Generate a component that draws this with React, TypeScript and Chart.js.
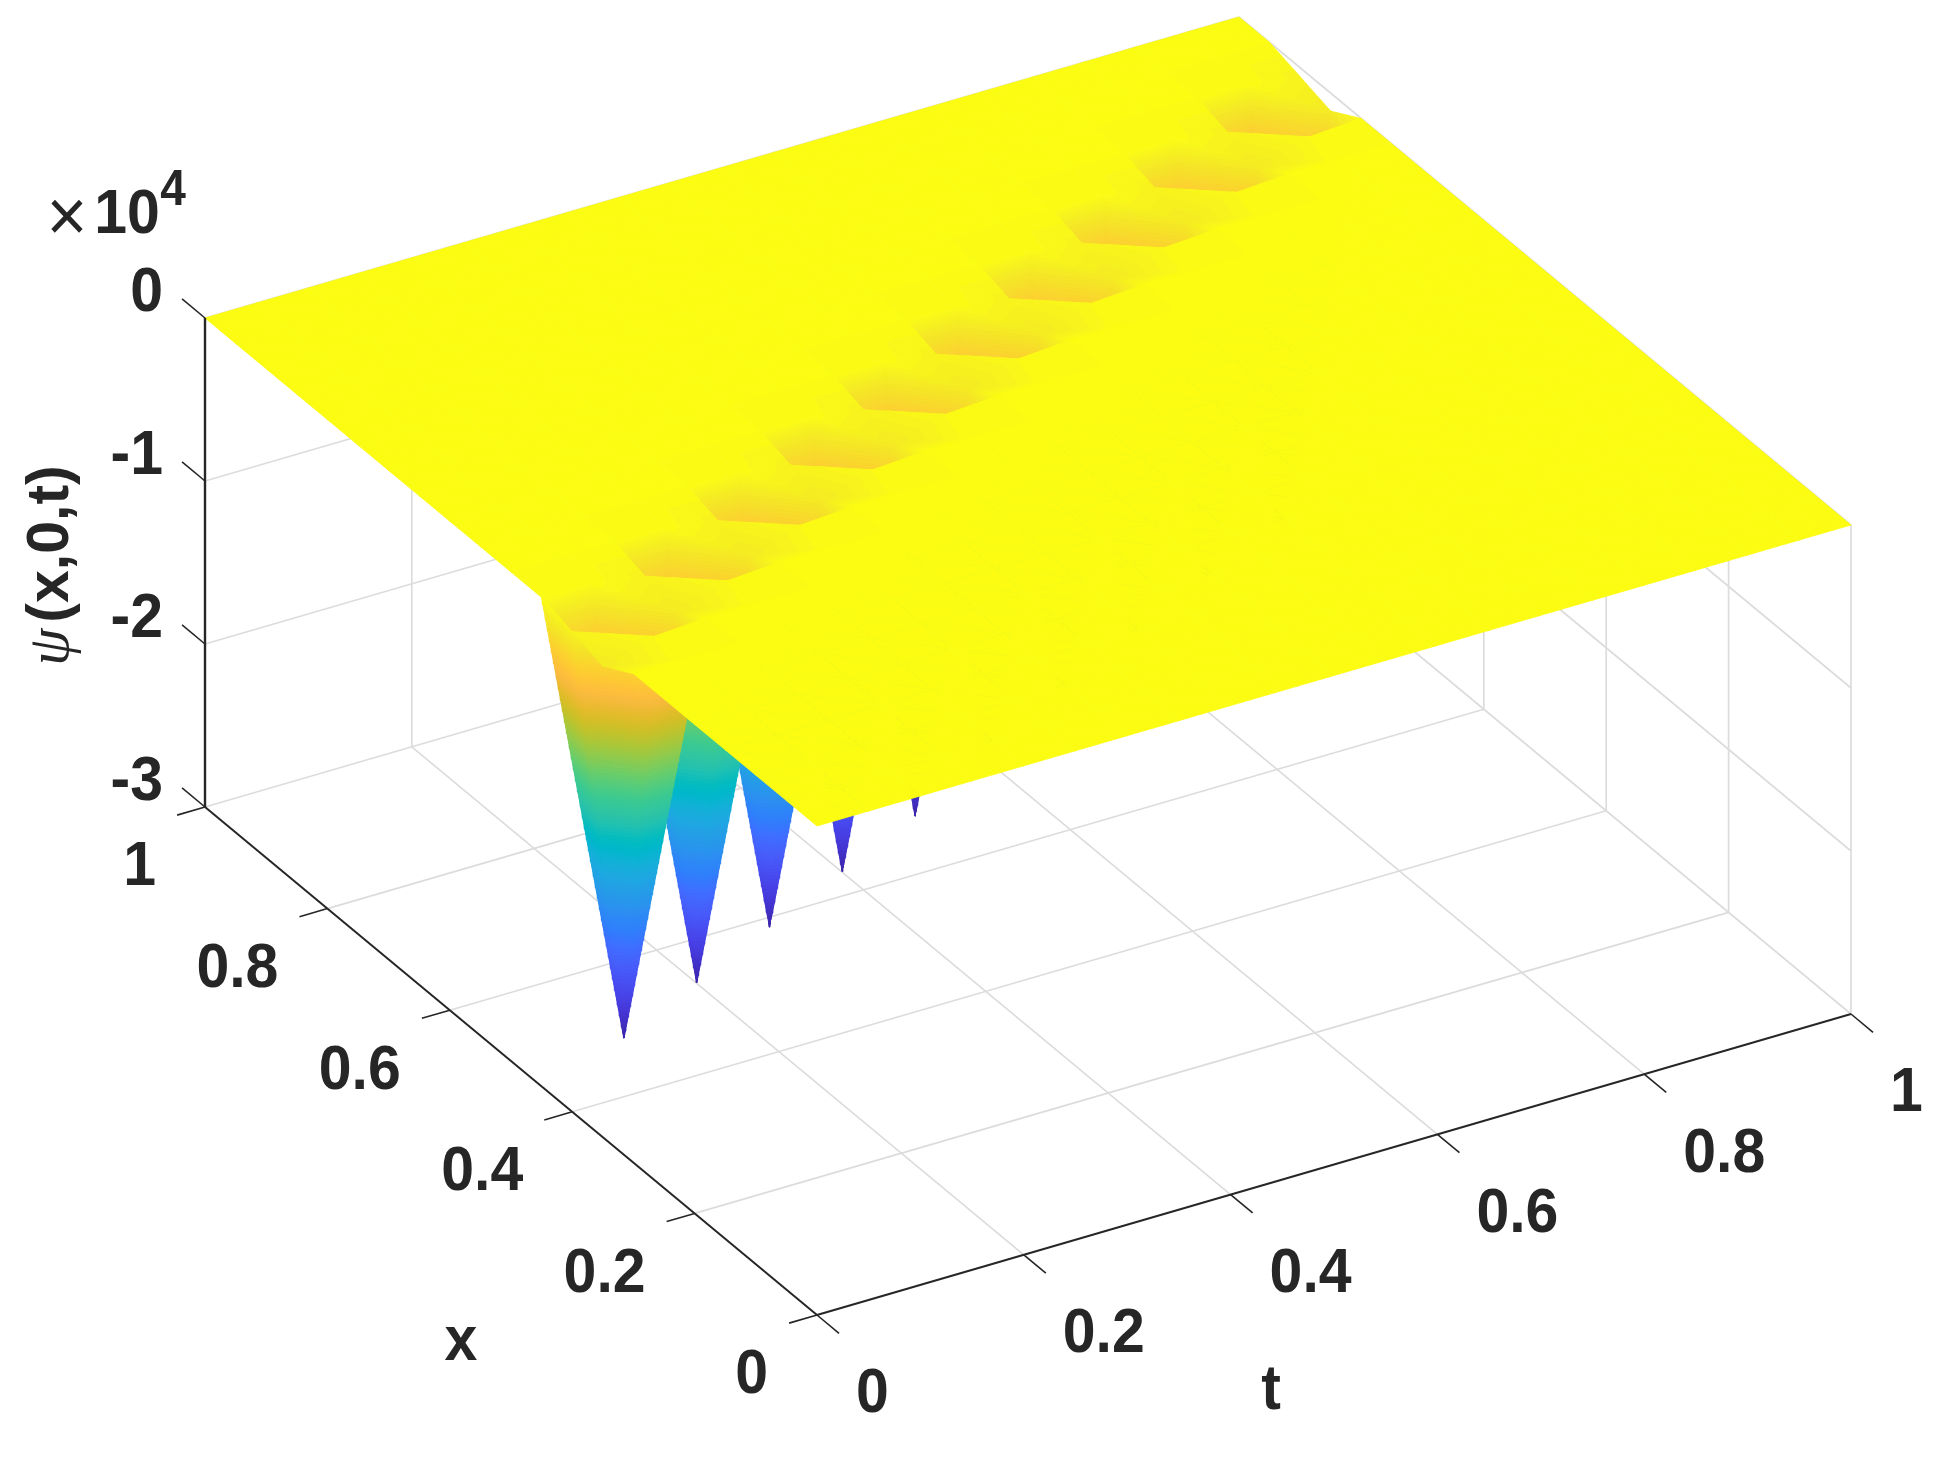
import React, { useEffect, useRef } from "react";
import { Chart, registerables } from "chart.js";

Chart.register(...registerables);

// ---------- data (x down the columns index, t down the rows index) ----------
const xGrid = [0, 0.05, 0.1, 0.15, 0.2, 0.25, 0.3, 0.35, 0.4, 0.45, 0.5, 0.55, 0.6, 0.65, 0.7, 0.75, 0.8, 0.85, 0.9, 0.95, 1];
const tGrid = [0, 0.05, 0.1, 0.15, 0.2, 0.25, 0.3, 0.35, 0.4, 0.45, 0.5, 0.55, 0.6, 0.65, 0.7, 0.75, 0.8, 0.85, 0.9, 0.95, 1];
// psi(x,0,t) in units of 1e4; one row per t value, one column per x value
const psiRows = [
  [0,0,0,0,0,0,0,-0.11,-0.055,0,0,0,0,0,0,0,0,0,0,0,0],
  [0,0,0,0,0,0,0,-0.02,-2.64,-0.01,0,0,0,0,0,0,0,0,0,0,0],
  [0,0,0,0,0,0,0,0,-0.11,-0.055,0,0,0,0,0,0,0,0,0,0,0],
  [0,0,0,0,0,0,0,0,-0.02,-2.64,-0.01,0,0,0,0,0,0,0,0,0,0],
  [0,0,0,0,0,0,0,0,0,-0.11,-0.055,0,0,0,0,0,0,0,0,0,0],
  [0,0,0,0,0,0,0,0,0,-0.02,-2.64,-0.01,0,0,0,0,0,0,0,0,0],
  [0,0,0,0,0,0,0,0,0,0,-0.11,-0.055,0,0,0,0,0,0,0,0,0],
  [0,0,0,0,0,0,0,0,0,0,-0.02,-2.64,-0.01,0,0,0,0,0,0,0,0],
  [0,0,0,0,0,0,0,0,0,0,0,-0.11,-0.055,0,0,0,0,0,0,0,0],
  [0,0,0,0,0,0,0,0,0,0,0,-0.02,-2.64,-0.01,0,0,0,0,0,0,0],
  [0,0,0,0,0,0,0,0,0,0,0,0,-0.11,-0.055,0,0,0,0,0,0,0],
  [0,0,0,0,0,0,0,0,0,0,0,0,-0.02,-2.64,-0.01,0,0,0,0,0,0],
  [0,0,0,0,0,0,0,0,0,0,0,0,0,-0.11,-0.055,0,0,0,0,0,0],
  [0,0,0,0,0,0,0,0,0,0,0,0,0,-0.02,-2.64,-0.01,0,0,0,0,0],
  [0,0,0,0,0,0,0,0,0,0,0,0,0,0,-0.11,-0.055,0,0,0,0,0],
  [0,0,0,0,0,0,0,0,0,0,0,0,0,0,-0.02,-2.64,-0.01,0,0,0,0],
  [0,0,0,0,0,0,0,0,0,0,0,0,0,0,0,-0.11,-0.055,0,0,0,0],
  [0,0,0,0,0,0,0,0,0,0,0,0,0,0,0,-0.02,-2.64,-0.01,0,0,0],
  [0,0,0,0,0,0,0,0,0,0,0,0,0,0,0,0,-0.11,-0.055,0,0,0],
  [0,0,0,0,0,0,0,0,0,0,0,0,0,0,0,0,-0.02,-2.64,-0.01,0,0],
  [0,0,0,0,0,0,0,0,0,0,0,0,0,0,0,0,0,-0.11,-0.055,0,0],
];
const xTicks = [0, 0.2, 0.4, 0.6, 0.8, 1];
const xTickLabels = ["0", "0.2", "0.4", "0.6", "0.8", "1"];
const tTicks = [0, 0.2, 0.4, 0.6, 0.8, 1];
const tTickLabels = ["0", "0.2", "0.4", "0.6", "0.8", "1"];
const zTicks = [0, -1, -2, -3];
const zTickLabels = ["0", "-1", "-2", "-3"];

// colour map (parula, 64 steps)
const parula = [
  [0.2422,0.1504,0.6603],[0.2504,0.165,0.7076],[0.2578,0.1818,0.7511],[0.2647,0.1978,0.7952],
  [0.2706,0.2147,0.8364],[0.2751,0.2342,0.871],[0.2783,0.2559,0.8991],[0.2803,0.2782,0.9221],
  [0.2813,0.3006,0.9414],[0.281,0.3228,0.9579],[0.2795,0.3447,0.9717],[0.276,0.3667,0.9829],
  [0.2699,0.3892,0.9906],[0.2602,0.4123,0.9952],[0.244,0.4358,0.9988],[0.2206,0.4603,0.9973],
  [0.1963,0.4847,0.9892],[0.1834,0.5074,0.9798],[0.1786,0.5289,0.9682],[0.1764,0.5499,0.952],
  [0.1687,0.5703,0.9359],[0.154,0.5902,0.9218],[0.146,0.6091,0.9079],[0.138,0.6276,0.8973],
  [0.1248,0.6459,0.8883],[0.1113,0.6635,0.8763],[0.0952,0.6798,0.8598],[0.0689,0.6948,0.8394],
  [0.0297,0.7082,0.8163],[0.0036,0.7203,0.7917],[0.0067,0.7312,0.766],[0.0433,0.7411,0.7394],
  [0.0964,0.75,0.712],[0.1408,0.7584,0.6842],[0.1717,0.767,0.6554],[0.1938,0.7758,0.6251],
  [0.2161,0.7843,0.5923],[0.247,0.7918,0.5567],[0.2906,0.7973,0.5188],[0.3406,0.8008,0.4789],
  [0.3909,0.8029,0.4354],[0.4456,0.8024,0.3909],[0.5044,0.7993,0.348],[0.5616,0.7942,0.3045],
  [0.6174,0.7876,0.2612],[0.672,0.7793,0.2227],[0.7242,0.7698,0.191],[0.7738,0.7598,0.1646],
  [0.8203,0.7498,0.1535],[0.8634,0.7406,0.1596],[0.9035,0.733,0.1774],[0.9393,0.7288,0.21],
  [0.9728,0.7298,0.2394],[0.9956,0.7434,0.2371],[0.997,0.7659,0.2199],[0.9952,0.7893,0.2028],
  [0.9892,0.8136,0.1885],[0.9786,0.8386,0.1766],[0.9676,0.8639,0.1643],[0.961,0.889,0.1537],
  [0.9597,0.9135,0.1423],[0.9628,0.9373,0.1265],[0.975,0.9606,0.1064],[0.985,0.99,0.07],
];

// ---------- view of the 3-D box (orthographic) ----------
const VIEW = { ox: 817, oy: 1315, xx: -612, xy: -508, tx: 1034, ty: -301, zy: 163, floor: -3 };
const BAND_COUNT = 120;
const GRID_COLOR = "#dcdcdc";
const AXIS_COLOR = "#262626";
const FONT = '"Liberation Sans", Arial, sans-serif';

type V3 = { x: number; t: number; z: number };

const project = (x: number, t: number, z: number) => ({
  x: VIEW.ox + x * VIEW.xx + t * VIEW.tx,
  y: VIEW.oy + x * VIEW.xy + t * VIEW.ty - (z - VIEW.floor) * VIEW.zy,
});

const zMin = Math.min(...psiRows.flat());
const zMax = 0;

function colorOf(z: number) {
  const f = Math.max(0, Math.min(1, (z - zMin) / (zMax - zMin))) * (parula.length - 1);
  const i = Math.min(parula.length - 2, Math.floor(f));
  const u = f - i;
  const c = parula[i].map((v, k) => Math.round(255 * (v + (parula[i + 1][k] - v) * u)));
  return `rgb(${c[0]},${c[1]},${c[2]})`;
}

function clipZ(poly: V3[], level: number, keepBelow: boolean) {
  const out: V3[] = [];
  for (let i = 0; i < poly.length; i++) {
    const a = poly[i];
    const b = poly[(i + 1) % poly.length];
    const ain = keepBelow ? a.z <= level : a.z >= level;
    const bin = keepBelow ? b.z <= level : b.z >= level;
    if (ain) out.push(a);
    if (ain !== bin) {
      const u = (level - a.z) / (b.z - a.z);
      out.push({ x: a.x + (b.x - a.x) * u, t: a.t + (b.t - a.t) * u, z: level });
    }
  }
  return out;
}

function polygonDataset(poly: V3[], color: string) {
  const pts = poly.map((p) => project(p.x, p.t, p.z));
  pts.push(pts[0]);
  return {
    data: pts,
    fill: "shape",
    backgroundColor: color,
    borderColor: color,
    borderWidth: 0.8,
    borderJoinStyle: "bevel",
    pointRadius: 0,
    tension: 0,
    clip: false,
  };
}

function strokeDataset(a: number[], b: number[], color: string, width: number) {
  return {
    data: [project(a[0], a[1], a[2]), project(b[0], b[1], b[2])],
    fill: false,
    borderColor: color,
    backgroundColor: color,
    borderWidth: width,
    pointRadius: 0,
    tension: 0,
    clip: false,
  };
}

function surfaceDatasets() {
  const out: any[] = [];
  const step = (zMax - zMin) / BAND_COUNT;
  const tri = (vs: V3[]) => {
    const lo = Math.min(...vs.map((v) => v.z));
    const hi = Math.max(...vs.map((v) => v.z));
    if (hi - lo < 1e-9) {
      out.push(polygonDataset(vs, colorOf(lo)));
      return;
    }
    for (let b = 0; b < BAND_COUNT; b++) {
      const top = zMax - b * step;
      const bottom = top - step;
      if (bottom > hi || top < lo) continue;
      let p = clipZ(vs, top, true);
      if (p.length < 3) continue;
      p = clipZ(p, bottom, false);
      if (p.length < 3) continue;
      out.push(polygonDataset(p, colorOf((top + bottom) / 2)));
    }
  };
  const v = (i: number, j: number): V3 => ({ x: xGrid[i], t: tGrid[j], z: psiRows[j][i] });
  // far to near, so nearer cells paint over farther ones
  for (let i = xGrid.length - 2; i >= 0; i--) {
    for (let j = tGrid.length - 2; j >= 0; j--) {
      tri([v(i + 1, j), v(i + 1, j + 1), v(i, j + 1)]);
      tri([v(i, j), v(i + 1, j), v(i, j + 1)]);
    }
  }
  return out;
}

function boxDatasets() {
  const grid: any[] = [];
  const lo = VIEW.floor;
  const g = (a: number[], b: number[]) => grid.push(strokeDataset(a, b, GRID_COLOR, 1.7));
  for (const t of tTicks) {
    if (t > 0) g([0, t, lo], [1, t, lo]);
    if (t > 0) g([1, t, lo], [1, t, 0]);
  }
  for (const x of xTicks) {
    if (x > 0) g([x, 0, lo], [x, 1, lo]);
    g([x, 1, lo], [x, 1, 0]);
  }
  for (const z of zTicks) {
    if (z === lo) continue;
    g([1, 0, z], [1, 1, z]);
    g([1, 1, z], [0, 1, z]);
  }
  return grid;
}

function axisDatasets() {
  const ax: any[] = [];
  const lo = VIEW.floor;
  ax.push(strokeDataset([1, 0, lo], [0, 0, lo], AXIS_COLOR, 2));
  ax.push(strokeDataset([0, 0, lo], [0, 1, lo], AXIS_COLOR, 2));
  ax.push(strokeDataset([1, 0, lo], [1, 0, 0], AXIS_COLOR, 2.4));
  for (const x of xTicks) ax.push(strokeDataset([x, 0, lo], [x, -0.027, lo], AXIS_COLOR, 1.6));
  for (const t of tTicks) ax.push(strokeDataset([0, t, lo], [-0.036, t, lo], AXIS_COLOR, 1.6));
  for (const z of zTicks) ax.push(strokeDataset([1, 0, z], [1.0375, 0, z], AXIS_COLOR, 1.6));
  return ax;
}

const textPlugin = {
  id: "boxText",
  afterDraw(chart: any) {
    const { ctx, scales } = chart;
    const px = (p: { x: number; y: number }) => ({
      x: scales.x.getPixelForValue(p.x),
      y: scales.y.getPixelForValue(p.y),
    });
    const put = (s: string, x: number, y: number, align: CanvasTextAlign, font: string) => {
      ctx.save();
      ctx.font = font;
      ctx.fillStyle = AXIS_COLOR;
      ctx.textAlign = align;
      ctx.textBaseline = "middle";
      ctx.translate(x, y);
      ctx.scale(1, 1.07);
      ctx.fillText(s, 0, 0);
      ctx.restore();
    };
    const bold = `bold 59px ${FONT}`;
    xTicks.forEach((x, i) => {
      const p = px(project(x, 0, VIEW.floor));
      put(xTickLabels[i], p.x - 49, p.y + 61, "right", bold);
    });
    tTicks.forEach((t, i) => {
      const p = px(project(0, t, VIEW.floor));
      put(tTickLabels[i], p.x + 39, p.y + 80, "left", bold);
    });
    zTicks.forEach((z, i) => {
      const p = px(project(1, 0, z));
      put(zTickLabels[i], p.x - 42, p.y - 24, "right", bold);
    });
    put("x", 461, 1343, "center", bold);
    put("t", 1271, 1392, "center", bold);
    put("\u00d7", 67, 220, "center", `70px ${FONT}`);
    put("10", 127, 216, "center", bold);
    put("4", 173, 191, "center", `bold 46px ${FONT}`);

    ctx.save();
    ctx.fillStyle = AXIS_COLOR;
    ctx.translate(68, 544);
    ctx.rotate(-Math.PI / 2);
    ctx.textBaseline = "alphabetic";
    ctx.textAlign = "center";
    ctx.font = bold;
    ctx.fillText("(x,0,t)", 0, 0);
    ctx.font = `italic 60px "Liberation Serif", serif`;
    ctx.fillText("\u03c8", -103, 0);
    ctx.restore();
  },
};

export default function App() {
  const ref = useRef<HTMLCanvasElement>(null);
  useEffect(() => {
    const far = [...boxDatasets(), ...surfaceDatasets()];
    // Chart.js paints the first dataset last, so nearest goes first
    const datasets = [...axisDatasets(), ...far.reverse()];
    const chart = new Chart(ref.current as HTMLCanvasElement, {
      type: "line",
      data: { datasets } as any,
      plugins: [textPlugin],
      options: {
        responsive: false,
        animation: false,
        events: [],
        layout: { padding: 0 },
        scales: {
          x: { type: "linear", min: 0, max: 1936, display: false },
          y: { type: "linear", min: 0, max: 1457, reverse: true, display: false },
        },
        plugins: {
          legend: { display: false },
          tooltip: { enabled: false },
          title: { display: false },
          colors: { enabled: false },
        },
      } as any,
    });
    return () => chart.destroy();
  }, []);
  return (
    <div style={{ position: "absolute", left: 0, top: 0, width: 1936, height: 1457, background: "#fff" }}>
      <canvas ref={ref} width={1936} height={1457} style={{ display: "block" }} />
    </div>
  );
}
